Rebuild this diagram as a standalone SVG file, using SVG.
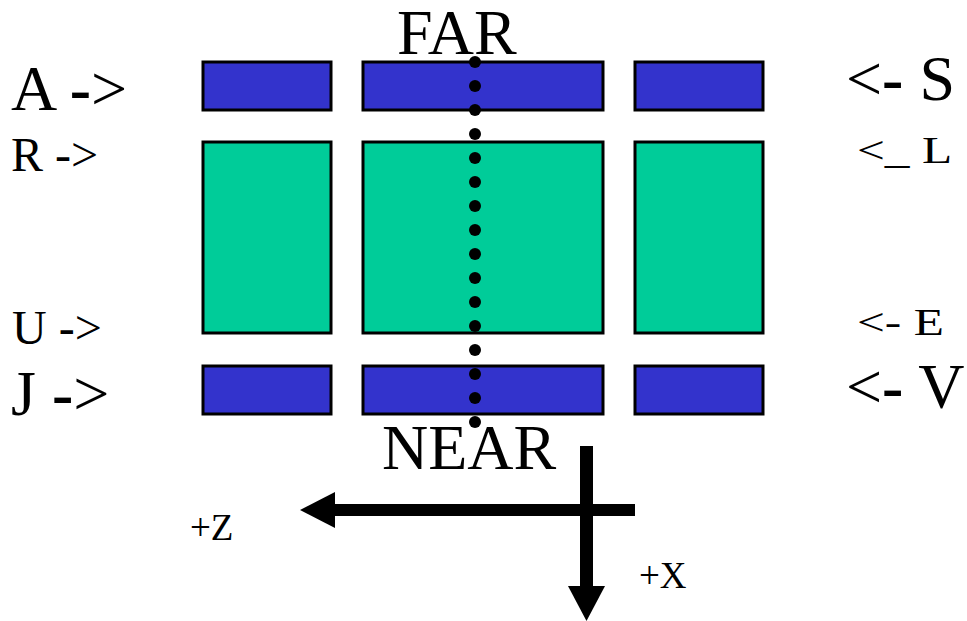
<svg xmlns="http://www.w3.org/2000/svg" width="967" height="621" viewBox="0 0 967 621">
<style>
.blue{fill:#3333CC;stroke:#000;stroke-width:3}
.green{fill:#00CC99;stroke:#000;stroke-width:3}
.dot{fill:#000}
text{font-family:"Liberation Serif","Times New Roman",serif;fill:#000}
.big{font-size:64px}
.mid{font-size:48px}
.sm{font-size:38px}
.ax{font-size:37px}
.b{font-weight:bold}
</style>
<rect width="967" height="621" fill="#fff"/>
<g id="boxes">
<rect id="blue-top-left" class="blue" x="203" y="62" width="128" height="48"/>
<rect id="blue-top-mid" class="blue" x="363" y="62" width="240" height="48"/>
<rect id="blue-top-right" class="blue" x="635" y="62" width="128" height="48"/>
<rect id="green-left" class="green" x="203" y="142" width="128" height="191"/>
<rect id="green-mid" class="green" x="363" y="142" width="240" height="191"/>
<rect id="green-right" class="green" x="635" y="142" width="128" height="191"/>
<rect id="blue-bot-left" class="blue" x="203" y="366" width="128" height="48"/>
<rect id="blue-bot-mid" class="blue" x="363" y="366" width="240" height="48"/>
<rect id="blue-bot-right" class="blue" x="635" y="366" width="128" height="48"/>
</g>
<g id="dots">
<circle class="dot" cx="475" cy="62" r="6"/>
<circle class="dot" cx="475" cy="86" r="6"/>
<circle class="dot" cx="475" cy="110" r="6"/>
<circle class="dot" cx="475" cy="134" r="6"/>
<circle class="dot" cx="475" cy="158" r="6"/>
<circle class="dot" cx="475" cy="182" r="6"/>
<circle class="dot" cx="475" cy="206" r="6"/>
<circle class="dot" cx="475" cy="230" r="6"/>
<circle class="dot" cx="475" cy="254" r="6"/>
<circle class="dot" cx="475" cy="278" r="6"/>
<circle class="dot" cx="475" cy="302" r="6"/>
<circle class="dot" cx="475" cy="326" r="6"/>
<circle class="dot" cx="475" cy="350" r="6"/>
<circle class="dot" cx="475" cy="374" r="6"/>
<circle class="dot" cx="475" cy="398" r="6"/>
<circle class="dot" cx="475" cy="422" r="6"/>
</g>
<g id="labels">
<text class="big" x="397" y="54">FAR</text>
<text class="big" x="382" y="469">NEAR</text>
<text class="big" x="11" y="110">A <tspan class="b">-</tspan>&gt;</text>
<text class="mid" x="11" y="171">R -&gt;</text>
<text class="mid" x="12" y="344">U -&gt;</text>
<text class="big" x="11" y="415">J <tspan class="b">-</tspan>&gt;</text>
<text class="big" x="846" y="100">&lt;<tspan class="b">-</tspan> S</text>
<text class="sm" transform="translate(857,163) scale(1.3,1)">&lt;_ L</text>
<text class="sm" transform="translate(857,335) scale(1.3,1)">&lt;- E</text>
<text class="big" x="846" y="408">&lt;<tspan class="b">-</tspan> V</text>
<text class="ax" x="190" y="540">+Z</text>
<text class="ax" x="639" y="588">+X</text>
</g>
<g id="axes">
<rect x="334" y="504" width="301" height="12" fill="#000"/>
<polygon points="300,510 335,492 335,528" fill="#000"/>
<rect x="580" y="446" width="13" height="141" fill="#000"/>
<polygon points="568,586 605,586 586.5,621" fill="#000"/>
</g>
</svg>
